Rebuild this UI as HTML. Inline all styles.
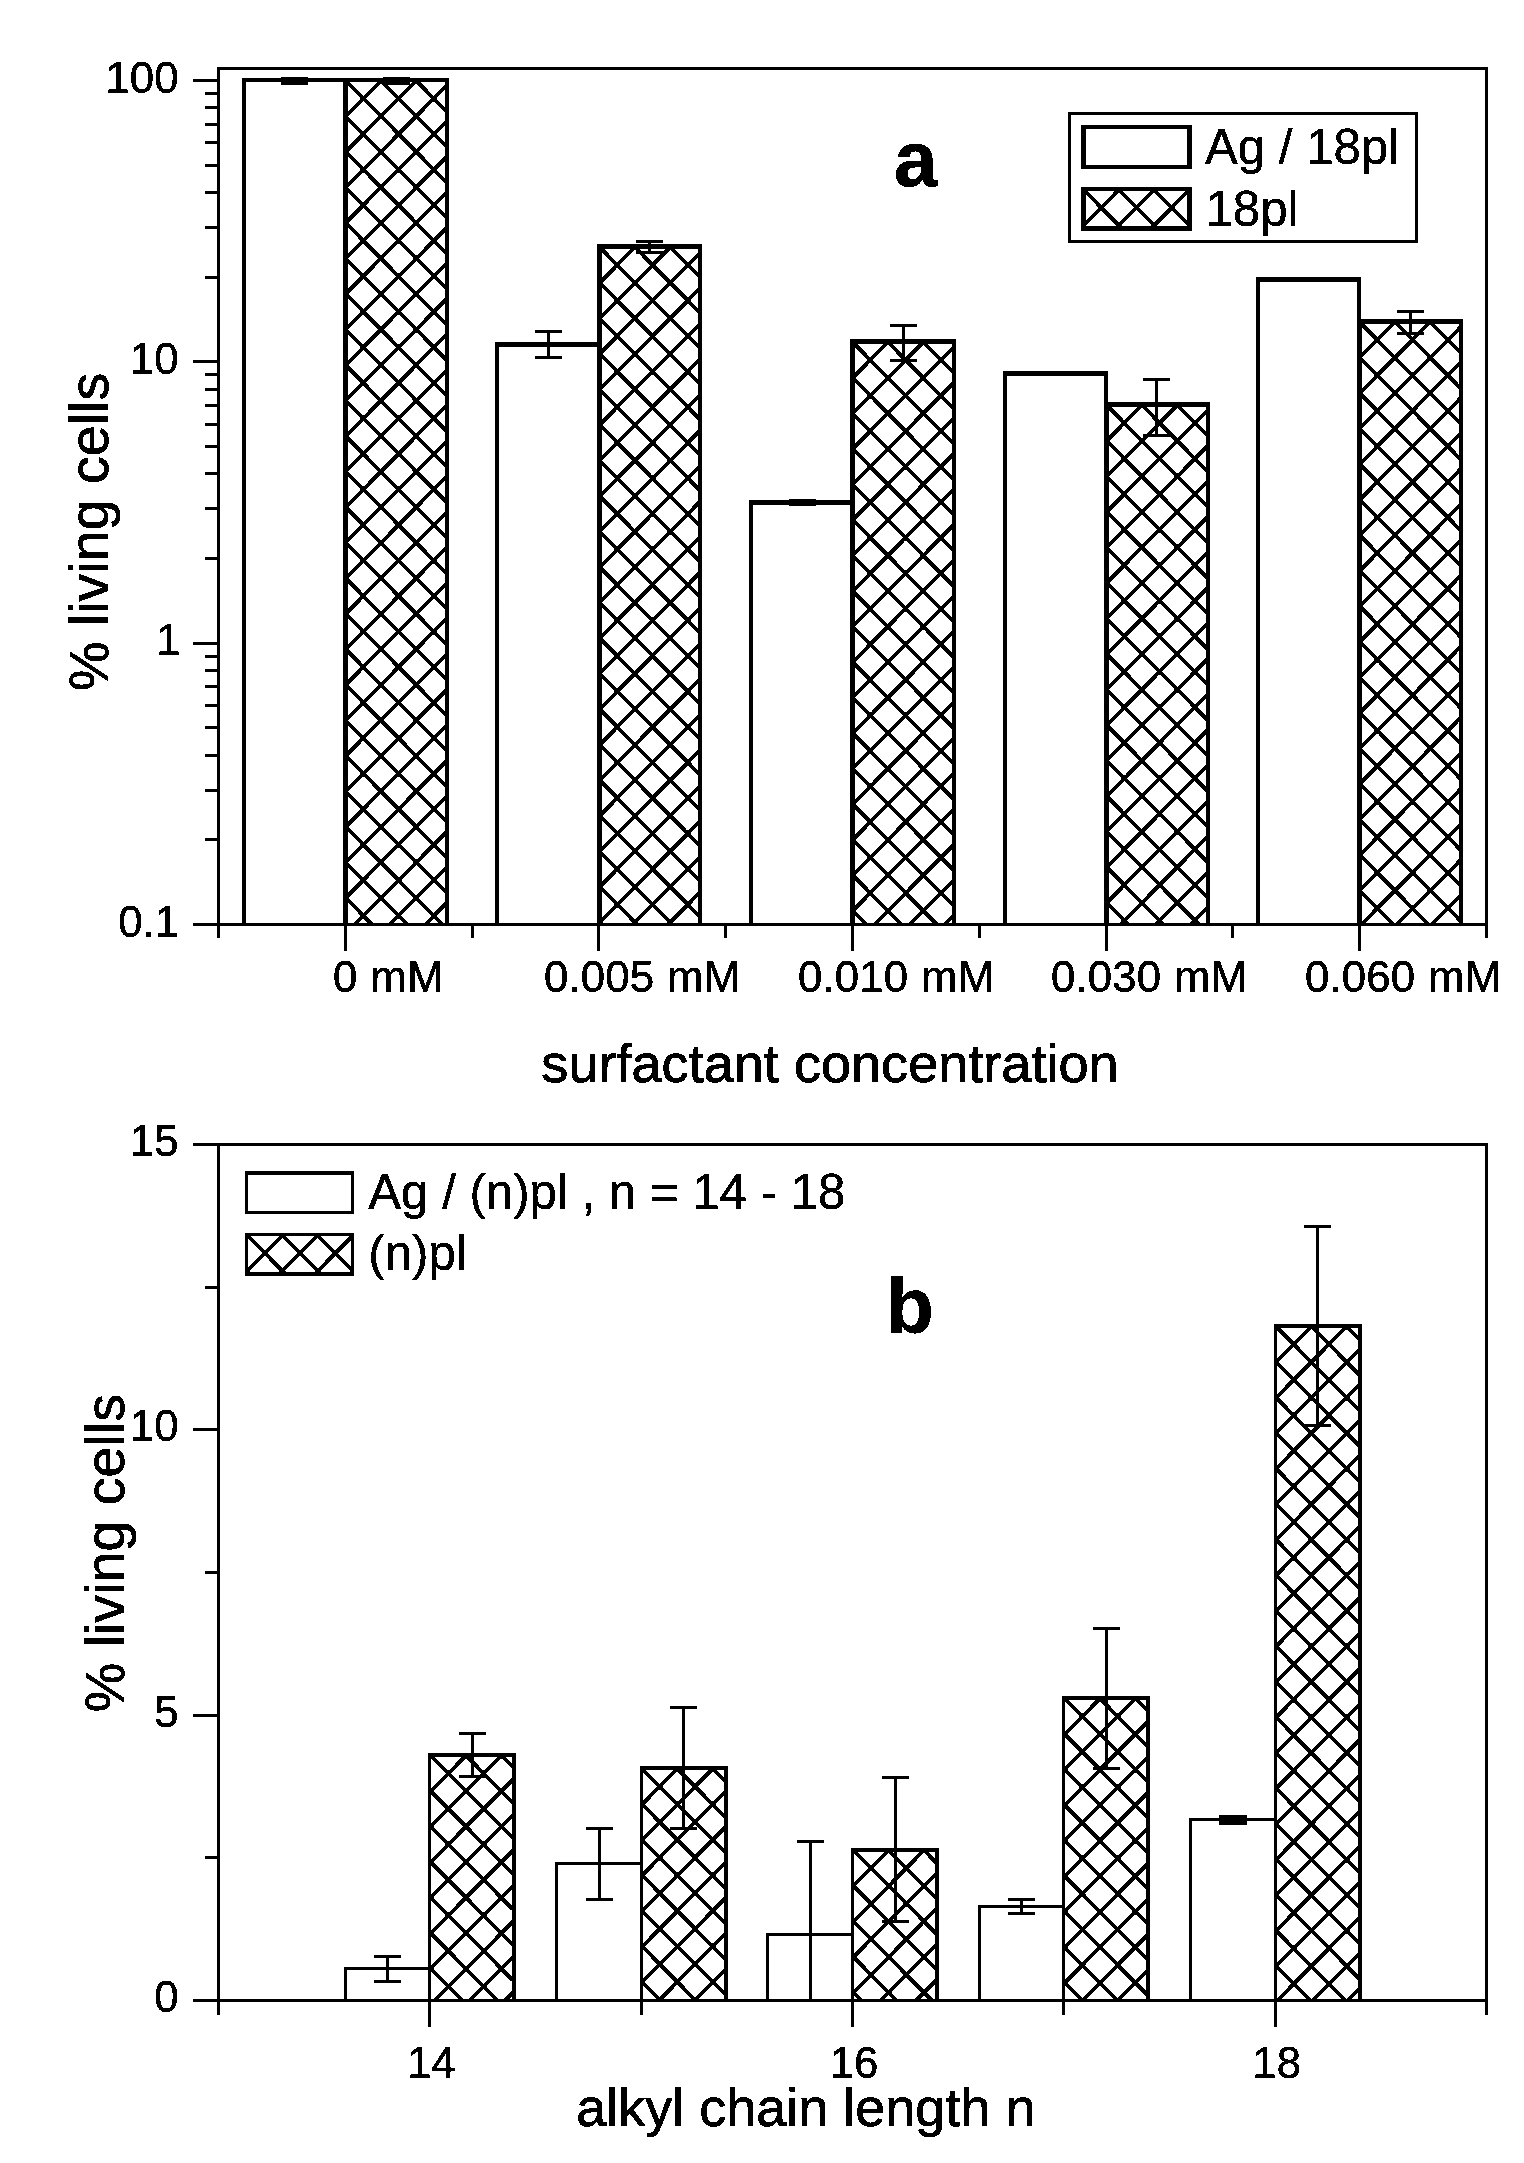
<!DOCTYPE html>
<html><head><meta charset="utf-8"><title>Figure</title>
<style>html,body{margin:0;padding:0;background:#fff}svg{display:block}</style>
</head><body>
<svg width="1524" height="2163" viewBox="0 0 1524 2163" font-family="'Liberation Sans', Arial, sans-serif">
<defs><filter id="bw" x="0" y="0" width="1524" height="2163" filterUnits="userSpaceOnUse" color-interpolation-filters="sRGB"><feComponentTransfer><feFuncR type="discrete" tableValues="0 0 0 1 1"/><feFuncG type="discrete" tableValues="0 0 0 1 1"/><feFuncB type="discrete" tableValues="0 0 0 1 1"/></feComponentTransfer></filter></defs>
<g filter="url(#bw)">
<rect x="0" y="0" width="1524" height="2163" fill="#fff"/>
<g shape-rendering="crispEdges">
<rect x="346" y="80" width="101" height="844" fill="#fff"/>
<path d="M345.5 897.8L372.0 924.5M345.5 862.3L407.3 924.5M345.5 826.8L442.6 924.5M345.5 791.2L446.7 893.1M345.5 755.7L446.7 857.6M345.5 720.2L446.7 822.1M345.5 684.7L446.7 786.6M345.5 649.1L446.7 751.0M345.5 613.6L446.7 715.5M345.5 578.1L446.7 680.0M345.5 542.5L446.7 644.4M345.5 507.0L446.7 608.9M345.5 471.5L446.7 573.4M345.5 435.9L446.7 537.8M345.5 400.4L446.7 502.3M345.5 364.9L446.7 466.8M345.5 329.4L446.7 431.3M345.5 293.8L446.7 395.7M345.5 258.3L446.7 360.2M345.5 222.8L446.7 324.7M345.5 187.2L446.7 289.1M345.5 151.7L446.7 253.6M345.5 116.2L446.7 218.1M345.5 80.6L446.7 182.5M345.5 81.0L346.4 80.0M380.2 80.0L446.7 147.0M345.5 116.5L381.7 80.0M415.5 80.0L446.7 111.5M345.5 152.0L417.0 80.0M345.5 187.5L446.7 85.6M345.5 223.1L446.7 121.2M345.5 258.6L446.7 156.7M345.5 294.1L446.7 192.2M345.5 329.7L446.7 227.8M345.5 365.2L446.7 263.3M345.5 400.7L446.7 298.8M345.5 436.3L446.7 334.4M345.5 471.8L446.7 369.9M345.5 507.3L446.7 405.4M345.5 542.8L446.7 440.9M345.5 578.4L446.7 476.5M345.5 613.9L446.7 512.0M345.5 649.4L446.7 547.5M345.5 685.0L446.7 583.1M345.5 720.5L446.7 618.6M345.5 756.0L446.7 654.1M345.5 791.6L446.7 689.7M345.5 827.1L446.7 725.2M345.5 862.6L446.7 760.7M345.5 898.1L446.7 796.2M354.6 924.5L446.7 831.8M389.9 924.5L446.7 867.3M425.2 924.5L446.7 902.8" stroke="#000" stroke-width="3.6" fill="none" shape-rendering="geometricPrecision"/>
<rect x="343" y="78" width="5" height="846" fill="#000"/>
<rect x="445" y="78" width="4" height="846" fill="#000"/>
<rect x="343" y="78" width="106" height="4" fill="#000"/>
<rect x="244" y="80" width="101" height="844" fill="#fff"/>
<rect x="242" y="78" width="4" height="846" fill="#000"/>
<rect x="343" y="78" width="4" height="846" fill="#000"/>
<rect x="242" y="78" width="105" height="4" fill="#000"/>
<rect x="600" y="246" width="100" height="678" fill="#fff"/>
<path d="M599.5 922.2L601.8 924.5M599.5 886.7L637.1 924.5M599.5 851.2L672.4 924.5M599.5 815.6L700.3 917.1M599.5 780.1L700.3 881.6M599.5 744.6L700.3 846.1M599.5 709.0L700.3 810.5M599.5 673.5L700.3 775.0M599.5 638.0L700.3 739.5M599.5 602.4L700.3 703.9M599.5 566.9L700.3 668.4M599.5 531.4L700.3 632.9M599.5 495.9L700.3 597.4M599.5 460.3L700.3 561.8M599.5 424.8L700.3 526.3M599.5 389.3L700.3 490.8M599.5 353.7L700.3 455.2M599.5 318.2L700.3 419.7M599.5 282.7L700.3 384.2M599.5 247.1L700.3 348.6M599.5 247.5L600.4 246.5M634.2 246.5L700.3 313.1M599.5 283.0L635.7 246.5M669.5 246.5L700.3 277.6M599.5 318.5L671.0 246.5M599.5 354.0L700.3 252.5M599.5 389.6L700.3 288.1M599.5 425.1L700.3 323.6M599.5 460.6L700.3 359.1M599.5 496.2L700.3 394.7M599.5 531.7L700.3 430.2M599.5 567.2L700.3 465.7M599.5 602.8L700.3 501.3M599.5 638.3L700.3 536.8M599.5 673.8L700.3 572.3M599.5 709.3L700.3 607.8M599.5 744.9L700.3 643.4M599.5 780.4L700.3 678.9M599.5 815.9L700.3 714.4M599.5 851.5L700.3 750.0M599.5 887.0L700.3 785.5M599.5 922.5L700.3 821.0M632.8 924.5L700.3 856.6M668.1 924.5L700.3 892.1" stroke="#000" stroke-width="3.6" fill="none" shape-rendering="geometricPrecision"/>
<rect x="597" y="244" width="5" height="680" fill="#000"/>
<rect x="698" y="244" width="4" height="680" fill="#000"/>
<rect x="597" y="244" width="105" height="5" fill="#000"/>
<rect x="497" y="344" width="102" height="580" fill="#fff"/>
<rect x="495" y="342" width="4" height="582" fill="#000"/>
<rect x="597" y="342" width="4" height="582" fill="#000"/>
<rect x="495" y="342" width="106" height="5" fill="#000"/>
<rect x="852" y="342" width="102" height="582" fill="#fff"/>
<path d="M852.5 910.6L866.3 924.5M852.5 875.1L901.6 924.5M852.5 839.6L936.9 924.5M852.5 804.0L953.9 906.1M852.5 768.5L953.9 870.6M852.5 733.0L953.9 835.1M852.5 697.4L953.9 799.5M852.5 661.9L953.9 764.0M852.5 626.4L953.9 728.5M852.5 590.9L953.9 693.0M852.5 555.3L953.9 657.4M852.5 519.8L953.9 621.9M852.5 484.3L953.9 586.4M852.5 448.7L953.9 550.8M852.5 413.2L953.9 515.3M852.5 377.7L953.9 479.8M852.5 342.1L953.9 444.2M852.5 342.5L853.4 341.5M887.2 341.5L953.9 408.7M852.5 378.0L888.7 341.5M922.5 341.5L953.9 373.2M852.5 413.5L924.0 341.5M852.5 449.0L953.9 346.9M852.5 484.6L953.9 382.5M852.5 520.1L953.9 418.0M852.5 555.6L953.9 453.5M852.5 591.2L953.9 489.1M852.5 626.7L953.9 524.6M852.5 662.2L953.9 560.1M852.5 697.8L953.9 595.7M852.5 733.3L953.9 631.2M852.5 768.8L953.9 666.7M852.5 804.3L953.9 702.2M852.5 839.9L953.9 737.8M852.5 875.4L953.9 773.3M852.5 910.9L953.9 808.8M874.3 924.5L953.9 844.4M909.6 924.5L953.9 879.9M944.9 924.5L953.9 915.4" stroke="#000" stroke-width="3.6" fill="none" shape-rendering="geometricPrecision"/>
<rect x="850" y="339" width="5" height="585" fill="#000"/>
<rect x="952" y="339" width="4" height="585" fill="#000"/>
<rect x="850" y="339" width="106" height="5" fill="#000"/>
<rect x="751" y="502" width="101" height="422" fill="#fff"/>
<rect x="749" y="500" width="4" height="424" fill="#000"/>
<rect x="850" y="500" width="4" height="424" fill="#000"/>
<rect x="749" y="500" width="105" height="5" fill="#000"/>
<rect x="1106" y="404" width="102" height="520" fill="#fff"/>
<path d="M1106.5 902.6L1128.3 924.5M1106.5 867.0L1163.6 924.5M1106.5 831.5L1198.9 924.5M1106.5 796.0L1207.5 897.7M1106.5 760.4L1207.5 862.1M1106.5 724.9L1207.5 826.6M1106.5 689.4L1207.5 791.1M1106.5 653.9L1207.5 755.6M1106.5 618.3L1207.5 720.0M1106.5 582.8L1207.5 684.5M1106.5 547.3L1207.5 649.0M1106.5 511.7L1207.5 613.4M1106.5 476.2L1207.5 577.9M1106.5 440.7L1207.5 542.4M1106.5 405.1L1207.5 506.8M1106.5 405.5L1107.4 404.5M1141.2 404.5L1207.5 471.3M1106.5 441.0L1142.7 404.5M1176.5 404.5L1207.5 435.8M1106.5 476.5L1178.0 404.5M1106.5 512.0L1207.5 410.3M1106.5 547.6L1207.5 445.9M1106.5 583.1L1207.5 481.4M1106.5 618.6L1207.5 516.9M1106.5 654.2L1207.5 552.5M1106.5 689.7L1207.5 588.0M1106.5 725.2L1207.5 623.5M1106.5 760.8L1207.5 659.1M1106.5 796.3L1207.5 694.6M1106.5 831.8L1207.5 730.1M1106.5 867.3L1207.5 765.6M1106.5 902.9L1207.5 801.2M1120.3 924.5L1207.5 836.7M1155.6 924.5L1207.5 872.2M1190.9 924.5L1207.5 907.8" stroke="#000" stroke-width="3.6" fill="none" shape-rendering="geometricPrecision"/>
<rect x="1104" y="402" width="5" height="522" fill="#000"/>
<rect x="1206" y="402" width="4" height="522" fill="#000"/>
<rect x="1104" y="402" width="106" height="5" fill="#000"/>
<rect x="1005" y="373" width="101" height="551" fill="#fff"/>
<rect x="1003" y="371" width="4" height="553" fill="#000"/>
<rect x="1104" y="371" width="4" height="553" fill="#000"/>
<rect x="1003" y="371" width="105" height="5" fill="#000"/>
<rect x="1360" y="321" width="101" height="603" fill="#fff"/>
<path d="M1359.5 890.4L1393.4 924.5M1359.5 854.8L1428.7 924.5M1359.5 819.3L1461.1 921.6M1359.5 783.8L1461.1 886.1M1359.5 748.3L1461.1 850.6M1359.5 712.7L1461.1 815.0M1359.5 677.2L1461.1 779.5M1359.5 641.7L1461.1 744.0M1359.5 606.1L1461.1 708.4M1359.5 570.6L1461.1 672.9M1359.5 535.1L1461.1 637.4M1359.5 499.5L1461.1 601.9M1359.5 464.0L1461.1 566.3M1359.5 428.5L1461.1 530.8M1359.5 393.0L1461.1 495.3M1359.5 357.4L1461.1 459.7M1359.5 321.9L1461.1 424.2M1359.5 322.2L1360.4 321.2M1394.2 321.3L1461.1 388.7M1359.5 357.7L1395.7 321.2M1429.5 321.3L1461.1 353.1M1359.5 393.3L1431.0 321.2M1359.5 428.8L1461.1 326.5M1359.5 464.3L1461.1 362.0M1359.5 499.9L1461.1 397.5M1359.5 535.4L1461.1 433.1M1359.5 570.9L1461.1 468.6M1359.5 606.4L1461.1 504.1M1359.5 642.0L1461.1 539.7M1359.5 677.5L1461.1 575.2M1359.5 713.0L1461.1 610.7M1359.5 748.6L1461.1 646.3M1359.5 784.1L1461.1 681.8M1359.5 819.6L1461.1 717.3M1359.5 855.2L1461.1 752.8M1359.5 890.7L1461.1 788.4M1361.2 924.5L1461.1 823.9M1396.5 924.5L1461.1 859.4M1431.8 924.5L1461.1 895.0" stroke="#000" stroke-width="3.6" fill="none" shape-rendering="geometricPrecision"/>
<rect x="1357" y="319" width="5" height="605" fill="#000"/>
<rect x="1459" y="319" width="4" height="605" fill="#000"/>
<rect x="1357" y="319" width="106" height="5" fill="#000"/>
<rect x="1258" y="280" width="101" height="644" fill="#fff"/>
<rect x="1256" y="277" width="4" height="647" fill="#000"/>
<rect x="1357" y="277" width="4" height="647" fill="#000"/>
<rect x="1256" y="277" width="105" height="5" fill="#000"/>
<rect x="281" y="77" width="27" height="8" fill="#000"/>
<rect x="383" y="77" width="27" height="8" fill="#000"/>
<rect x="547" y="332" width="3" height="26" fill="#000"/>
<rect x="535" y="330" width="27" height="3" fill="#000"/>
<rect x="535" y="356" width="27" height="3" fill="#000"/>
<rect x="648" y="242" width="3" height="10" fill="#000"/>
<rect x="636" y="240" width="27" height="3" fill="#000"/>
<rect x="636" y="251" width="27" height="3" fill="#000"/>
<rect x="789" y="499" width="27" height="7" fill="#000"/>
<rect x="902" y="325" width="3" height="36" fill="#000"/>
<rect x="890" y="324" width="27" height="3" fill="#000"/>
<rect x="890" y="359" width="27" height="3" fill="#000"/>
<rect x="1155" y="380" width="3" height="56" fill="#000"/>
<rect x="1143" y="378" width="27" height="3" fill="#000"/>
<rect x="1143" y="434" width="27" height="3" fill="#000"/>
<rect x="1409" y="311" width="3" height="23" fill="#000"/>
<rect x="1397" y="310" width="27" height="3" fill="#000"/>
<rect x="1397" y="332" width="27" height="3" fill="#000"/>
<rect x="217" y="67" width="3" height="871" fill="#000"/>
<rect x="1485" y="67" width="3" height="871" fill="#000"/>
<rect x="217" y="67" width="1271" height="3" fill="#000"/>
<rect x="193" y="923" width="1295" height="3" fill="#000"/>
<rect x="193" y="79" width="25" height="3" fill="#000"/>
<rect x="205" y="276" width="13" height="3" fill="#000"/>
<rect x="205" y="226" width="13" height="3" fill="#000"/>
<rect x="205" y="191" width="13" height="3" fill="#000"/>
<rect x="205" y="164" width="13" height="3" fill="#000"/>
<rect x="205" y="141" width="13" height="3" fill="#000"/>
<rect x="205" y="123" width="13" height="3" fill="#000"/>
<rect x="205" y="106" width="13" height="3" fill="#000"/>
<rect x="205" y="92" width="13" height="3" fill="#000"/>
<rect x="193" y="360" width="25" height="3" fill="#000"/>
<rect x="205" y="557" width="13" height="3" fill="#000"/>
<rect x="205" y="507" width="13" height="3" fill="#000"/>
<rect x="205" y="472" width="13" height="3" fill="#000"/>
<rect x="205" y="445" width="13" height="3" fill="#000"/>
<rect x="205" y="423" width="13" height="3" fill="#000"/>
<rect x="205" y="404" width="13" height="3" fill="#000"/>
<rect x="205" y="388" width="13" height="3" fill="#000"/>
<rect x="205" y="373" width="13" height="3" fill="#000"/>
<rect x="193" y="642" width="25" height="3" fill="#000"/>
<rect x="205" y="838" width="13" height="3" fill="#000"/>
<rect x="205" y="789" width="13" height="3" fill="#000"/>
<rect x="205" y="754" width="13" height="3" fill="#000"/>
<rect x="205" y="726" width="13" height="3" fill="#000"/>
<rect x="205" y="704" width="13" height="3" fill="#000"/>
<rect x="205" y="685" width="13" height="3" fill="#000"/>
<rect x="205" y="669" width="13" height="3" fill="#000"/>
<rect x="205" y="655" width="13" height="3" fill="#000"/>
<rect x="344" y="924" width="3" height="27" fill="#000"/>
<rect x="597" y="924" width="3" height="27" fill="#000"/>
<rect x="851" y="924" width="3" height="27" fill="#000"/>
<rect x="1105" y="924" width="3" height="27" fill="#000"/>
<rect x="1358" y="924" width="3" height="27" fill="#000"/>
<rect x="471" y="924" width="3" height="14" fill="#000"/>
<rect x="724" y="924" width="3" height="14" fill="#000"/>
<rect x="978" y="924" width="3" height="14" fill="#000"/>
<rect x="1231" y="924" width="3" height="14" fill="#000"/>
<rect x="1070" y="114" width="346" height="127" fill="#fff"/>
<rect x="1068" y="112" width="3" height="130" fill="#000"/>
<rect x="1415" y="112" width="3" height="130" fill="#000"/>
<rect x="1068" y="112" width="350" height="3" fill="#000"/>
<rect x="1068" y="240" width="350" height="3" fill="#000"/>
<rect x="1084" y="127" width="106" height="40" fill="#fff"/>
<rect x="1081" y="125" width="5" height="44" fill="#000"/>
<rect x="1187" y="125" width="5" height="44" fill="#000"/>
<rect x="1081" y="125" width="111" height="4" fill="#000"/>
<rect x="1081" y="165" width="111" height="4" fill="#000"/>
<rect x="1084" y="189" width="106" height="39" fill="#fff"/>
<path d="M1083.5 225.3L1086.6 228.5M1083.5 189.8L1121.9 228.5M1083.5 189.8L1084.3 189.0M1118.0 189.0L1157.2 228.5M1083.5 225.3L1119.6 189.0M1153.3 189.0L1189.5 225.4M1115.7 228.5L1154.9 189.0M1188.6 189.0L1189.5 189.9M1151.0 228.5L1189.5 189.7M1186.3 228.5L1189.5 225.2" stroke="#000" stroke-width="3.6" fill="none" shape-rendering="geometricPrecision"/>
<rect x="1081" y="187" width="5" height="43" fill="#000"/>
<rect x="1187" y="187" width="5" height="43" fill="#000"/>
<rect x="1081" y="187" width="111" height="4" fill="#000"/>
<rect x="1081" y="226" width="111" height="5" fill="#000"/>
<rect x="430" y="1755" width="84" height="245" fill="#fff"/>
<path d="M429.8 1967.8L462.3 2000.5M429.8 1932.3L497.6 2000.5M429.8 1896.8L514.4 1981.8M429.8 1861.2L514.4 1946.3M429.8 1825.7L514.4 1910.8M429.8 1790.2L514.4 1875.3M429.9 1754.8L514.4 1839.7M429.8 1756.5L431.5 1754.8M465.2 1754.8L514.4 1804.2M429.8 1792.0L466.8 1754.8M500.5 1754.8L514.4 1768.7M429.8 1827.5L502.1 1754.8M429.8 1863.0L514.4 1778.0M429.8 1898.6L514.4 1813.5M429.8 1934.1L514.4 1849.0M429.8 1969.6L514.4 1884.6M434.5 2000.5L514.4 1920.1M469.8 2000.5L514.4 1955.6M505.1 2000.5L514.4 1991.1" stroke="#000" stroke-width="3.6" fill="none" shape-rendering="geometricPrecision"/>
<rect x="428" y="1753" width="3" height="247" fill="#000"/>
<rect x="512" y="1753" width="4" height="247" fill="#000"/>
<rect x="428" y="1753" width="88" height="4" fill="#000"/>
<rect x="345" y="1968" width="85" height="32" fill="#fff"/>
<rect x="344" y="1967" width="3" height="33" fill="#000"/>
<rect x="428" y="1967" width="3" height="33" fill="#000"/>
<rect x="344" y="1967" width="87" height="3" fill="#000"/>
<rect x="641" y="1768" width="85" height="232" fill="#fff"/>
<path d="M641.2 1981.1L660.5 2000.5M641.2 1945.5L695.8 2000.5M641.2 1910.0L725.7 1995.1M641.2 1874.5L725.7 1959.6M641.2 1839.0L725.7 1924.0M641.2 1803.4L725.7 1888.5M641.3 1768.0L725.7 1853.0M641.2 1769.7L642.9 1768.0M676.6 1768.0L725.7 1817.4M641.2 1805.2L678.2 1768.0M711.9 1768.0L725.7 1781.9M641.2 1840.8L713.5 1768.0M641.2 1876.3L725.7 1791.2M641.2 1911.8L725.7 1826.7M641.2 1947.4L725.7 1862.3M641.2 1982.9L725.7 1897.8M659.0 2000.5L725.7 1933.3M694.3 2000.5L725.7 1968.9" stroke="#000" stroke-width="3.6" fill="none" shape-rendering="geometricPrecision"/>
<rect x="640" y="1766" width="3" height="234" fill="#000"/>
<rect x="724" y="1766" width="4" height="234" fill="#000"/>
<rect x="640" y="1766" width="88" height="4" fill="#000"/>
<rect x="557" y="1863" width="84" height="137" fill="#fff"/>
<rect x="555" y="1862" width="3" height="138" fill="#000"/>
<rect x="640" y="1862" width="3" height="138" fill="#000"/>
<rect x="555" y="1862" width="88" height="3" fill="#000"/>
<rect x="852" y="1850" width="85" height="150" fill="#fff"/>
<path d="M852.5 1991.6L861.3 2000.5M852.5 1956.1L896.6 2000.5M852.5 1920.6L931.9 2000.5M852.5 1885.0L937.0 1970.1M852.6 1849.6L937.0 1934.6M852.5 1851.3L854.2 1849.6M887.9 1849.6L937.0 1899.0M852.5 1886.8L889.5 1849.6M923.2 1849.6L937.0 1863.5M852.5 1922.4L924.8 1849.6M852.5 1957.9L937.0 1872.8M852.5 1993.4L937.0 1908.3M880.8 2000.5L937.0 1943.9M916.1 2000.5L937.0 1979.4" stroke="#000" stroke-width="3.6" fill="none" shape-rendering="geometricPrecision"/>
<rect x="851" y="1848" width="3" height="152" fill="#000"/>
<rect x="935" y="1848" width="4" height="152" fill="#000"/>
<rect x="851" y="1848" width="88" height="4" fill="#000"/>
<rect x="768" y="1934" width="84" height="66" fill="#fff"/>
<rect x="766" y="1933" width="3" height="67" fill="#000"/>
<rect x="851" y="1933" width="3" height="67" fill="#000"/>
<rect x="766" y="1933" width="88" height="3" fill="#000"/>
<rect x="1064" y="1698" width="84" height="302" fill="#fff"/>
<path d="M1063.8 1981.9L1082.3 2000.5M1063.8 1946.4L1117.6 2000.5M1063.8 1910.8L1148.4 1995.9M1063.8 1875.3L1148.4 1960.4M1063.8 1839.8L1148.4 1924.8M1063.8 1804.2L1148.4 1889.3M1063.8 1768.7L1148.4 1853.8M1063.8 1733.2L1148.4 1818.3M1063.9 1697.8L1148.4 1782.7M1063.8 1699.5L1065.5 1697.7M1099.2 1697.8L1148.4 1747.2M1063.8 1735.0L1100.8 1697.8M1134.5 1697.8L1148.4 1711.7M1063.8 1770.5L1136.1 1697.8M1063.8 1806.0L1148.4 1721.0M1063.8 1841.6L1148.4 1756.5M1063.8 1877.1L1148.4 1792.0M1063.8 1912.6L1148.4 1827.6M1063.8 1948.2L1148.4 1863.1M1063.8 1983.7L1148.4 1898.6M1082.4 2000.5L1148.4 1934.1M1117.7 2000.5L1148.4 1969.7" stroke="#000" stroke-width="3.6" fill="none" shape-rendering="geometricPrecision"/>
<rect x="1062" y="1696" width="3" height="304" fill="#000"/>
<rect x="1146" y="1696" width="4" height="304" fill="#000"/>
<rect x="1062" y="1696" width="88" height="4" fill="#000"/>
<rect x="979" y="1906" width="85" height="94" fill="#fff"/>
<rect x="978" y="1905" width="3" height="95" fill="#000"/>
<rect x="1062" y="1905" width="3" height="95" fill="#000"/>
<rect x="978" y="1905" width="87" height="3" fill="#000"/>
<rect x="1275" y="1326" width="85" height="674" fill="#fff"/>
<path d="M1275.2 1965.2L1310.3 2000.5M1275.2 1929.7L1345.6 2000.5M1275.2 1894.1L1359.7 1979.2M1275.2 1858.6L1359.7 1943.7M1275.2 1823.1L1359.7 1908.1M1275.2 1787.5L1359.7 1872.6M1275.2 1752.0L1359.7 1837.1M1275.2 1716.5L1359.7 1801.6M1275.2 1680.9L1359.7 1766.0M1275.2 1645.4L1359.7 1730.5M1275.2 1609.9L1359.7 1695.0M1275.2 1574.4L1359.7 1659.4M1275.2 1538.8L1359.7 1623.9M1275.2 1503.3L1359.7 1588.4M1275.2 1467.8L1359.7 1552.8M1275.2 1432.2L1359.7 1517.3M1275.2 1396.7L1359.7 1481.8M1275.2 1361.2L1359.7 1446.3M1275.3 1325.8L1359.7 1410.7M1275.2 1327.5L1276.9 1325.7M1310.6 1325.8L1359.7 1375.2M1275.2 1363.0L1312.2 1325.8M1345.9 1325.8L1359.7 1339.7M1275.2 1398.5L1347.5 1325.8M1275.2 1434.0L1359.7 1349.0M1275.2 1469.6L1359.7 1384.5M1275.2 1505.1L1359.7 1420.0M1275.2 1540.6L1359.7 1455.6M1275.2 1576.2L1359.7 1491.1M1275.2 1611.7L1359.7 1526.6M1275.2 1647.2L1359.7 1562.1M1275.2 1682.8L1359.7 1597.7M1275.2 1718.3L1359.7 1633.2M1275.2 1753.8L1359.7 1668.7M1275.2 1789.3L1359.7 1704.3M1275.2 1824.9L1359.7 1739.8M1275.2 1860.4L1359.7 1775.3M1275.2 1895.9L1359.7 1810.9M1275.2 1931.5L1359.7 1846.4M1275.2 1967.0L1359.7 1881.9M1277.2 2000.5L1359.7 1917.4M1312.5 2000.5L1359.7 1953.0M1347.8 2000.5L1359.7 1988.5" stroke="#000" stroke-width="3.6" fill="none" shape-rendering="geometricPrecision"/>
<rect x="1274" y="1324" width="3" height="676" fill="#000"/>
<rect x="1358" y="1324" width="4" height="676" fill="#000"/>
<rect x="1274" y="1324" width="88" height="4" fill="#000"/>
<rect x="1191" y="1820" width="84" height="180" fill="#fff"/>
<rect x="1189" y="1818" width="3" height="182" fill="#000"/>
<rect x="1274" y="1818" width="3" height="182" fill="#000"/>
<rect x="1189" y="1818" width="88" height="3" fill="#000"/>
<rect x="386" y="1956" width="3" height="26" fill="#000"/>
<rect x="374" y="1955" width="27" height="3" fill="#000"/>
<rect x="374" y="1980" width="27" height="3" fill="#000"/>
<rect x="471" y="1733" width="3" height="43" fill="#000"/>
<rect x="459" y="1732" width="27" height="3" fill="#000"/>
<rect x="459" y="1775" width="27" height="3" fill="#000"/>
<rect x="598" y="1828" width="3" height="72" fill="#000"/>
<rect x="586" y="1827" width="27" height="3" fill="#000"/>
<rect x="586" y="1898" width="27" height="3" fill="#000"/>
<rect x="682" y="1708" width="3" height="120" fill="#000"/>
<rect x="670" y="1706" width="27" height="3" fill="#000"/>
<rect x="670" y="1827" width="27" height="3" fill="#000"/>
<rect x="809" y="1841" width="3" height="159" fill="#000"/>
<rect x="797" y="1840" width="27" height="3" fill="#000"/>
<rect x="894" y="1777" width="3" height="145" fill="#000"/>
<rect x="882" y="1776" width="27" height="3" fill="#000"/>
<rect x="882" y="1920" width="27" height="3" fill="#000"/>
<rect x="1020" y="1900" width="3" height="14" fill="#000"/>
<rect x="1008" y="1898" width="27" height="3" fill="#000"/>
<rect x="1008" y="1912" width="27" height="3" fill="#000"/>
<rect x="1105" y="1629" width="3" height="139" fill="#000"/>
<rect x="1093" y="1627" width="27" height="3" fill="#000"/>
<rect x="1093" y="1767" width="27" height="3" fill="#000"/>
<rect x="1219" y="1815" width="28" height="10" fill="#000"/>
<rect x="1316" y="1227" width="3" height="198" fill="#000"/>
<rect x="1304" y="1225" width="27" height="3" fill="#000"/>
<rect x="1304" y="1424" width="27" height="3" fill="#000"/>
<rect x="217" y="1143" width="3" height="872" fill="#000"/>
<rect x="1485" y="1143" width="3" height="872" fill="#000"/>
<rect x="193" y="1143" width="1295" height="3" fill="#000"/>
<rect x="193" y="1999" width="1295" height="3" fill="#000"/>
<rect x="193" y="1428" width="25" height="3" fill="#000"/>
<rect x="193" y="1714" width="25" height="3" fill="#000"/>
<rect x="205" y="1286" width="13" height="3" fill="#000"/>
<rect x="205" y="1571" width="13" height="3" fill="#000"/>
<rect x="205" y="1856" width="13" height="3" fill="#000"/>
<rect x="428" y="2000" width="3" height="27" fill="#000"/>
<rect x="851" y="2000" width="3" height="27" fill="#000"/>
<rect x="1274" y="2000" width="3" height="27" fill="#000"/>
<rect x="640" y="2000" width="3" height="15" fill="#000"/>
<rect x="1062" y="2000" width="3" height="15" fill="#000"/>
<rect x="246" y="1173" width="106" height="39" fill="#fff"/>
<rect x="245" y="1171" width="3" height="43" fill="#000"/>
<rect x="351" y="1171" width="3" height="43" fill="#000"/>
<rect x="245" y="1171" width="109" height="4" fill="#000"/>
<rect x="245" y="1211" width="109" height="3" fill="#000"/>
<rect x="246" y="1234" width="106" height="40" fill="#fff"/>
<path d="M246.5 1270.3L250.2 1274.0M246.5 1234.7L285.5 1274.0M246.5 1236.1L248.0 1234.5M281.6 1234.5L320.8 1274.0M246.5 1271.6L283.3 1234.5M316.9 1234.5L352.5 1270.4M279.4 1274.0L318.6 1234.5M352.2 1234.5L352.5 1234.8M314.7 1274.0L352.5 1236.0M350.0 1274.0L352.5 1271.5" stroke="#000" stroke-width="3.6" fill="none" shape-rendering="geometricPrecision"/>
<rect x="245" y="1233" width="3" height="43" fill="#000"/>
<rect x="351" y="1233" width="3" height="43" fill="#000"/>
<rect x="245" y="1233" width="109" height="3" fill="#000"/>
<rect x="245" y="1272" width="109" height="4" fill="#000"/>
</g>
<g fill="#000" stroke="#000" stroke-width="0" stroke-linejoin="round">
<text x="178.50" y="92.50" font-size="43.75" text-anchor="end" font-weight="normal" stroke-width="0.3">100</text>
<text x="178.50" y="373.83" font-size="43.75" text-anchor="end" font-weight="normal" stroke-width="0.3">10</text>
<text x="180.50" y="655.17" font-size="43.75" text-anchor="end" font-weight="normal" stroke-width="0.3">1</text>
<text x="179.20" y="936.50" font-size="43.75" text-anchor="end" font-weight="normal" stroke-width="0.3">0.1</text>
<text x="178.50" y="1155.90" font-size="43.75" text-anchor="end" font-weight="normal" stroke-width="0.3">15</text>
<text x="178.50" y="1441.23" font-size="43.75" text-anchor="end" font-weight="normal" stroke-width="0.3">10</text>
<text x="178.50" y="1726.57" font-size="43.75" text-anchor="end" font-weight="normal" stroke-width="0.3">5</text>
<text x="178.50" y="2011.90" font-size="43.75" text-anchor="end" font-weight="normal" stroke-width="0.3">0</text>
<g letter-spacing="0.15" word-spacing="0.5">
<text x="333.00" y="991.60" font-size="43.75" text-anchor="start" font-weight="normal" stroke-width="0.3">0 mM</text>
<text x="544.00" y="991.60" font-size="43.75" text-anchor="start" font-weight="normal" stroke-width="0.3">0.005 mM</text>
<text x="798.00" y="991.60" font-size="43.75" text-anchor="start" font-weight="normal" stroke-width="0.3">0.010 mM</text>
<text x="1051.00" y="991.60" font-size="43.75" text-anchor="start" font-weight="normal" stroke-width="0.3">0.030 mM</text>
<text x="1305.00" y="991.60" font-size="43.75" text-anchor="start" font-weight="normal" stroke-width="0.3">0.060 mM</text>
</g>
<text x="431.33" y="2077.50" font-size="43.75" text-anchor="middle" font-weight="normal" stroke-width="0.3">14</text>
<text x="854.00" y="2077.50" font-size="43.75" text-anchor="middle" font-weight="normal" stroke-width="0.3">16</text>
<text x="1276.67" y="2077.50" font-size="43.75" text-anchor="middle" font-weight="normal" stroke-width="0.3">18</text>
<text x="830.00" y="1082.00" font-size="54.1" text-anchor="middle" font-weight="normal" stroke-width="0.7">surfactant concentration</text>
<text x="805.80" y="2125.50" font-size="54" text-anchor="middle" font-weight="normal" stroke-width="0.6">alkyl chain length n</text>
<text transform="translate(108 531.9) rotate(-90)" font-size="55.6" text-anchor="middle" stroke-width="0.5">% living cells</text>
<text transform="translate(124.2 1553.1) rotate(-90)" font-size="55.6" text-anchor="middle" stroke-width="0.5">% living cells</text>
<text x="1205.00" y="164.00" font-size="49.2" text-anchor="start" font-weight="normal" stroke-width="0.25">Ag / 18pl</text>
<text x="1205.50" y="226.00" font-size="49.2" text-anchor="start" font-weight="normal" stroke-width="0.25">18pl</text>
<text x="368.30" y="1208.60" font-size="49.2" text-anchor="start" font-weight="normal" stroke-width="0.25">Ag / (n)pl , n = 14 - 18</text>
<text x="368.30" y="1270.00" font-size="49.2" text-anchor="start" font-weight="normal" stroke-width="0.25">(n)pl</text>
<text x="915.70" y="185.80" font-size="78.3" text-anchor="middle" font-weight="bold" stroke-width="0.3">a</text>
<text x="886.00" y="1332.80" font-size="78.3" text-anchor="start" font-weight="bold" stroke-width="0.3">b</text>
</g>
</g>
</svg>
</body></html>
